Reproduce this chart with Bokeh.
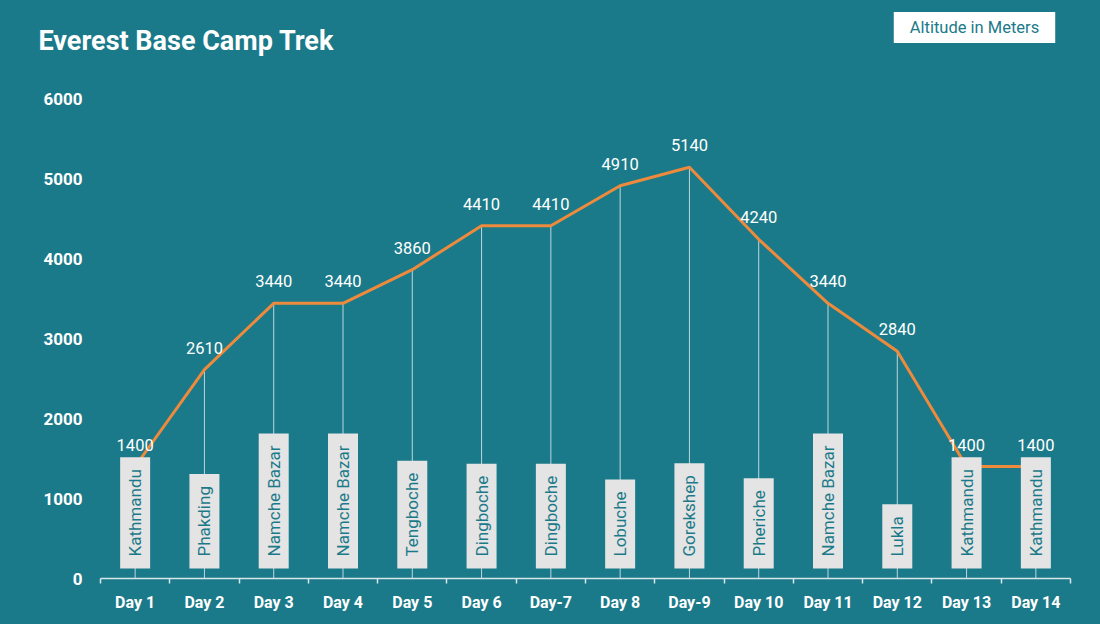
import math
from bokeh.plotting import figure
from bokeh.layouts import column
from bokeh.models import FixedTicker, Label, Range1d, ColumnDataSource
from bokeh.core.properties import value
from bokeh.embed import file_html
from bokeh.resources import INLINE

days = ["Day 1", "Day 2", "Day 3", "Day 4", "Day 5", "Day 6", "Day-7",
        "Day 8", "Day-9", "Day 10", "Day 11", "Day 12", "Day 13", "Day 14"]
altitudes = [1400, 2610, 3440, 3440, 3860, 4410, 4410, 4910, 5140, 4240,
             3440, 2840, 1400, 1400]
places = ["Kathmandu", "Phakding", "Namche Bazar", "Namche Bazar", "Tengboche",
          "Dingboche", "Dingboche", "Lobuche", "Gorekshep", "Pheriche",
          "Namche Bazar", "Lukla", "Kathmandu", "Kathmandu"]
y_ticks = [0, 1000, 2000, 3000, 4000, 5000, 6000]

BG = "#1b7a89"
ORANGE = "#ee8a3c"
FONT = "Roboto"
W = 1100
TOP_H = 70

# ---- header strip (title + legend box) ----
head = figure(width=W, height=TOP_H, output_backend="svg", toolbar_location=None,
              x_range=Range1d(0, W), y_range=Range1d(0, TOP_H),
              x_axis_location=None, y_axis_location=None, min_border=0)
head.frame_align = False
head.background_fill_color = BG
head.border_fill_color = BG
head.outline_line_color = None
head.grid.visible = False

title = Label(x=38, y=TOP_H - 40, x_units="screen", y_units="screen",
              text="Everest Base Camp Trek", text_font=FONT,
              text_font_size="27px", text_font_style="bold",
              text_color="white", text_baseline="middle")
head.add_layout(title)

legend = Label(x=974, y=TOP_H - 27, x_units="screen", y_units="screen",
               text="Altitude in Meters", text_font=FONT, text_font_size="16.5px",
               text_color="#1b7a89", text_align="center", text_baseline="middle",
               background_fill_color="white",
               padding=dict(left=16, right=16, top=6, bottom=6))
head.add_layout(legend)

# ---- main chart ----
xs = list(range(1, len(days) + 1))
src = ColumnDataSource(dict(x=xs, alt=altitudes, base=[0] * len(xs),
                            place=places, lab=[str(a) for a in altitudes]))

p = figure(width=W, height=624 - TOP_H, output_backend="svg", toolbar_location=None,
           x_range=Range1d(0.5, len(days) + 0.5), y_range=Range1d(0, 6000),
           min_border_left=100, min_border_right=30, min_border_top=98 - TOP_H,
           min_border_bottom=46)
p.frame_align = False
p.background_fill_color = BG
p.border_fill_color = BG
p.outline_line_color = None
p.xgrid.grid_line_color = None
p.ygrid.grid_line_color = None

# drop lines
p.segment(x0="x", y0="base", x1="x", y1="alt", source=src,
          line_color="white", line_alpha=0.7, line_width=1)
# main line
p.line(x="x", y="alt", source=src, line_color=ORANGE, line_width=3)
# place labels in boxes
p.text(x="x", y="base", text="place", source=src, angle=math.pi / 2,
       text_align="left", text_baseline="middle", y_offset=-10,
       text_font=value(FONT), text_font_size="17px", text_color="#1b7a89",
       background_fill_color="#e4e4e4",
       padding=dict(left=12, right=12, top=5, bottom=5))
# value labels
p.text(x="x", y="alt", text="lab", source=src, text_align="center",
       text_baseline="bottom", y_offset=-16, text_font=value(FONT),
       text_font_size="16.5px", text_color="white")

# axes
yax = p.yaxis[0]
yax.ticker = FixedTicker(ticks=y_ticks)
yax.axis_line_color = None
yax.major_tick_line_color = None
yax.minor_tick_line_color = None
yax.major_tick_out = 0
yax.major_tick_in = 0
yax.major_label_standoff = 18
yax.major_label_text_color = "white"
yax.major_label_text_font = FONT
yax.major_label_text_font_style = "bold"
yax.major_label_text_font_size = "17px"

xax = p.xaxis[0]
xax.ticker = FixedTicker(ticks=xs, minor_ticks=[i + 0.5 for i in range(len(xs) + 1)])
xax.major_label_overrides = {x: d for x, d in zip(xs, days)}
xax.axis_line_color = "#d8e8ea"
xax.axis_line_width = 1.5
xax.major_tick_line_color = None
xax.major_tick_out = 0
xax.major_tick_in = 0
xax.minor_tick_line_color = "#d8e8ea"
xax.minor_tick_line_width = 1.5
xax.minor_tick_out = 5
xax.minor_tick_in = 0
xax.major_label_standoff = 9
xax.major_label_text_color = "white"
xax.major_label_text_font = FONT
xax.major_label_text_font_style = "bold"
xax.major_label_text_font_size = "16px"

layout = column(head, p, spacing=0)

html = file_html(layout, INLINE)
html = html.replace("<head>", "<head><style>html,body{background:%s;}</style>" % BG, 1)
open("out.html", "w").write(html)
